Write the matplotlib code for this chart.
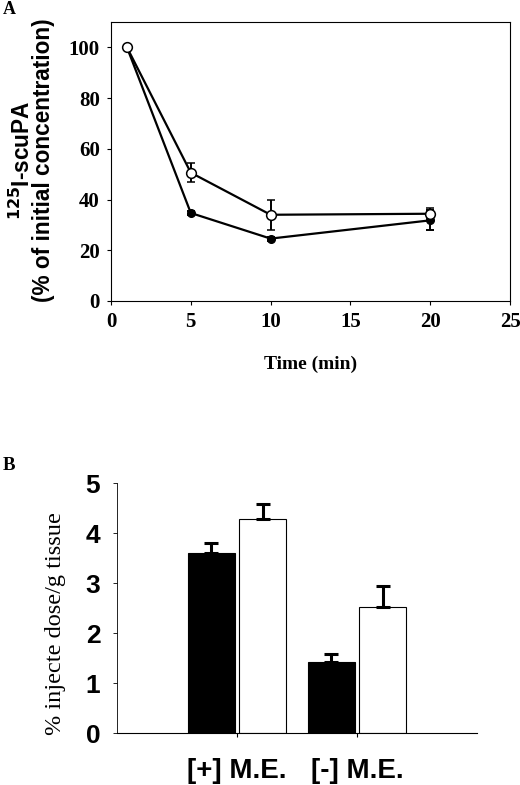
import numpy as np
import matplotlib
matplotlib.use("Agg")
import matplotlib.pyplot as plt

# panel A: time course
time_min = [1, 5, 10, 20]
open_vals = [100, 50.6, 34.0, 34.4]
open_err = [0, 3.8, 6.0, 2.1]
filled_vals = [100, 34.7, 24.6, 31.8]
filled_err = [0, 0.8, 0.8, 4.0]

# panel B: tissue uptake
groups = ["[+] M.E.", "[-] M.E."]
black_vals = [3.6, 1.42]
black_err = [0.21, 0.17]
white_vals = [4.28, 2.52]
white_err = [0.30, 0.43]

serif = "Liberation Serif"
sans = "Liberation Sans"

fig = plt.figure(figsize=(5.2, 7.85), dpi=100)

# ---- A ----
ax = fig.add_axes([111 / 520, 1 - 301 / 785, 399 / 520, 279 / 785])
ax.errorbar(time_min, filled_vals, yerr=filled_err, color="black", lw=1.6,
            marker="o", ms=5.5, mfc="black", mec="black", capsize=3,
            elinewidth=1.4, capthick=1.4, zorder=3)
ax.errorbar(time_min, open_vals, yerr=open_err, color="black", lw=1.6,
            marker="o", ms=7, mfc="white", mec="black", mew=1.1, capsize=3,
            elinewidth=1.4, capthick=1.4, zorder=4)
ax.set_xlim(0, 25)
ax.set_ylim(0, 110)
ax.set_xticks([0, 5, 10, 15, 20, 25])
ax.set_yticks([0, 20, 40, 60, 80, 100])
ax.tick_params(direction="out", length=3, width=0.8, pad=5)
for lab in ax.get_xticklabels() + ax.get_yticklabels():
    lab.set_fontfamily(serif)
    lab.set_fontweight("bold")
    lab.set_fontsize(15)
for s in ax.spines.values():
    s.set_linewidth(0.8)
ax.set_xlabel("Time (min)", fontfamily=serif, fontweight="bold", fontsize=14,
              labelpad=17)
ax.set_ylabel("$\\mathbf{^{125}}$I-scuPA\n(% of initial concentration)",
              fontfamily=sans, fontweight="bold", fontsize=16.3, linespacing=0.82)
ax.yaxis.set_label_coords(-0.14, 0.505)
fig.text(3 / 520, 1 - 10 / 785, "A", fontfamily=serif, fontweight="bold",
         fontsize=13, va="center", ha="left")

# ---- B ----
bx = fig.add_axes([117 / 520, 1 - 733.3 / 785, 360 / 520, 250 / 785])
pos = np.arange(1, len(groups) + 1)
w = 0.39
bx.bar(pos - 0.215, black_vals, width=w, color="black", edgecolor="black",
       lw=0.8)
bx.bar(pos + 0.215, white_vals, width=w, color="white", edgecolor="black",
       lw=0.8)
bx.errorbar(pos - 0.215, black_vals, yerr=[[0, 0], black_err], fmt="none",
            ecolor="black", elinewidth=2.2, capsize=5, capthick=2.2)
bx.errorbar(pos + 0.215, white_vals, yerr=[[0, 0], white_err], fmt="none",
            ecolor="black", elinewidth=2.2, capsize=5, capthick=2.2)
bx.set_xlim(0, 3)
bx.set_ylim(0, 5)
bx.set_xticks(pos)
bx.set_xticklabels(groups, fontfamily=sans, fontweight="bold", fontsize=20)
bx.set_yticks([0, 1, 2, 3, 4, 5])
bx.set_yticklabels(["0", "1", "2", "3", "4", "5"], fontfamily=sans,
                   fontweight="bold", fontsize=19)
bx.spines["top"].set_visible(False)
bx.spines["right"].set_visible(False)
bx.spines["left"].set_linewidth(0.6)
bx.spines["bottom"].set_linewidth(0.8)
bx.tick_params(axis="y", direction="out", length=3, width=0.6, pad=9)
bx.tick_params(axis="x", direction="out", length=3, width=0.8, pad=15)
bx.set_ylabel("% injecte dose/g tissue", fontfamily=serif, fontsize=17.5)
bx.yaxis.set_label_coords(-0.142, 0.44)
fig.text(3 / 520, 1 - 466 / 785, "B", fontfamily=serif, fontweight="bold",
         fontsize=13.5, va="center", ha="left")

fig.savefig("out.png", dpi=100)
